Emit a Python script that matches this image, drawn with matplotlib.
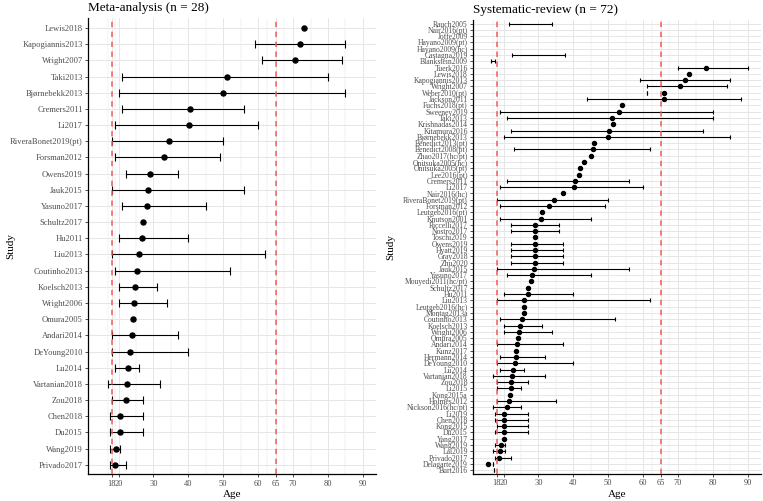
import numpy as np
import matplotlib.pyplot as plt

plt.rcParams['font.family'] = ['Liberation Serif', 'DejaVu Serif']

nan = np.nan

# meta-analysis studies (top to bottom)
meta_study = ["Lewis2018", "Kapogiannis2013", "Wright2007", "Taki2013", "Bjørnebekk2013",
              "Cremers2011", "Li2017", "RiveraBonet2019(pt)", "Forsman2012", "Owens2019",
              "Jauk2015", "Yasuno2017", "Schultz2017", "Hu2011", "Liu2013", "Coutinho2013",
              "Koelsch2013", "Wright2006", "Omura2005", "Andari2014", "DeYoung2010", "Lu2014",
              "Vartanian2018", "Zou2018", "Chen2018", "Du2015", "Wang2019", "Privado2017"]
meta_mean = [73, 72, 70.5, 51, 50, 40.5, 40.3, 34.5, 33, 29, 28.5, 28.2, 27, 26.8, 26,
             25.3, 24.6, 24.4, 24.2, 24, 23.3, 22.6, 22.4, 22.2, 20.5, 20.5, 19.2, 19]
meta_lo = [nan, 59, 61, 21, 20, 21, 19, 18, 19, 22, 18, 21, nan, 20, 18, 19, 20, 20, nan,
           18, 18, 19, 17, 18, 17.5, 17.5, 17.5, 17.5]
meta_hi = [nan, 85, 84, 80, 85, 56, 60, 50, 49, 37, 56, 45, nan, 40, 62, 52, 31, 34, nan,
           37, 40, 26, 32, 27, 27, 27, 20.5, 22]

# systematic-review studies (top to bottom)
sr_study = ["Rauch2005", "Nair2016(pt)", "Joffe2009", "Hayano2009(pt)", "Hayano2009(hc)",
            "Castagna2019", "Blankstein2009", "Tuerk2016", "Lewis2018", "Kapogiannis2013",
            "Wright2007", "Weber2010(pt)", "Jackson2011", "Fuchs2018(pt)", "Sweeney2019",
            "Taki2013", "Krishnadas2014", "Kitamura2016", "Bjørnebekk2013", "Benedict2013(pt)",
            "Benedict2008(pt)", "Zhao2017(hc/pt)", "Onitsuka2005(hc)", "Onitsuka2005(pt)",
            "Lee2016(pt)", "Cremers2011", "Li2017", "Nair2016(hc)", "RiveraBonet2019(pt)",
            "Forsman2012", "Leutgeb2016(pt)", "Knutson2001", "Riccelli2017", "Nostro2017",
            "Toschi2019", "Owens2019", "Hyatt2019", "Gray2018", "Zhu2020", "Jauk2015",
            "Yasuno2017", "Mouyedi2011(hc/pt)", "Schultz2017", "Hu2011", "Liu2013",
            "Leutgeb2016(hc)", "Montag2013a", "Coutinho2013", "Koelsch2013", "Wright2006",
            "Omura2005", "Andari2014", "Kunz2017", "Hermann2014", "DeYoung2010", "Lu2014",
            "Vartanian2018", "Zou2018", "Li2015", "Kong2015a", "Holmes2012",
            "Nickson2016(hc/pt)", "Li2019", "Chen2018", "Kong2015", "Du2015", "Yang2017",
            "Wang2019", "Lai2019", "Privado2017", "Delagarte2019", "Burt2016"]
sr_mean = [nan, nan, nan, nan, nan, nan, nan, 78, 73, 72, 70.5, 66, 66, 54, 53, 51.2, 51.4,
           50.2, 50, 46, 45.5, 45, 43, 42, 41.5, 40.5, 40.3, 37, 34.5, 33, 31, 30.6, 29, 29,
           28.9, 29, 29, 29, 29, 28.6, 28.2, 27.8, 27, 27, 26, 26, 25.9, 25.3, 24.6, 24.4,
           24.2, 24, 23.6, 23.5, 23.3, 22.6, 22.4, 22.2, 22, 21.9, 21.6, 21, 20.2, 20.2, 20.2,
           20.2, 20, 19.2, 19, 18.8, 15.6, nan]
sr_lo = [21.5, nan, nan, nan, nan, 22.5, 16.5, 70, nan, 59, 61, 61, 44, nan, 19, 21, nan,
         22, 20, nan, 23, nan, nan, nan, nan, 21, 19, nan, 18, 19, nan, 19, 22, 22, nan, 22,
         22, 22, 22, 18, 21, nan, nan, 20, 18, nan, nan, 19, 20, 20, nan, 18, nan, 19, 18,
         19, 17, 18, 18, nan, 18, 17, 17.5, 17.5, 18, 17.5, nan, 17.5, 17, 17.5, 17, 17.2]
sr_hi = [34, nan, nan, nan, nan, 37.5, 17.5, 90, nan, 85, 84, 61, 88, nan, 80, 80, nan,
         77, 85, nan, 62, nan, nan, nan, nan, 56, 60, nan, 50, 49, nan, 45, 36, 36, nan, 37,
         37, 37, 37, 56, 45, nan, nan, 40, 62, nan, nan, 52, 31, 34, nan, 37, nan, 32, 40,
         26, 32, 27, 25, nan, 35, 25, 27, 27, 27, 27, nan, 20.5, 20.5, 22, 17, 17.2]

x_breaks = [18, 20, 30, 40, 50, 60, 65, 70, 80, 90]
x_minor = [17, 19, 25, 35, 45, 55, 62.5, 67.5, 75, 85]
tick_grey = '#4D4D4D'
grid_col = '#E6E6E6'
red = '#F25A5A'

fig = plt.figure(figsize=(7.63, 5.01), dpi=100)
ax1 = fig.add_axes([0.1153, 0.0529, 0.3775, 0.9106])
ax2 = fig.add_axes([0.6199, 0.0539, 0.3775, 0.9066])


def draw_panel(ax, study, mean, lo, hi, fs, cap, ms, title):
    n = len(study)
    y = np.arange(n)[::-1]
    mean = np.array(mean, float)
    lo = np.array(lo, float)
    hi = np.array(hi, float)

    # grid
    for v in x_minor:
        ax.axvline(v, color=grid_col, lw=0.35, zorder=0)
    for v in x_breaks:
        ax.axvline(v, color=grid_col, lw=0.7, zorder=0)
    for yy in y:
        ax.axhline(yy, color=grid_col, lw=0.7, zorder=0)

    # intervals
    ok = ~np.isnan(lo)
    ax.hlines(y[ok], lo[ok], hi[ok], color='black', lw=0.8, zorder=2)
    ax.plot(lo[ok], y[ok], '|', color='black', ms=cap, mew=0.8, zorder=2)
    ax.plot(hi[ok], y[ok], '|', color='black', ms=cap, mew=0.8, zorder=2)
    ax.plot(mean, y, 'o', color='black', ms=ms, zorder=3)

    ax.axvline(18, color=red, ls=(0, (3.5, 3)), lw=1.1, zorder=4)
    ax.axvline(65, color=red, ls=(0, (3.5, 3)), lw=1.1, zorder=4)

    ax.set_xlim(11.25, 93.75)
    ax.set_ylim(-0.6, n - 0.4)
    ax.set_xticks(x_breaks)
    ax.set_xticklabels([str(v) for v in x_breaks])
    ax.set_yticks(y)
    ax.set_yticklabels(study)
    ax.tick_params(axis='both', colors='#333333', labelcolor=tick_grey, labelsize=fs,
                   length=2.2, width=0.6, pad=1.5)
    ax.tick_params(axis='x', labelsize=6)
    for t, v in zip(ax.xaxis.get_major_ticks(), x_breaks):
        if v in (18, 65):
            t.tick1line.set_color(red)

    for s in ['top', 'right']:
        ax.spines[s].set_visible(False)
    for s in ['left', 'bottom']:
        ax.spines[s].set_linewidth(0.9)
        ax.spines[s].set_color('black')

    ax.set_xlabel('Age', fontsize=8, labelpad=2)
    ax.set_ylabel('Study', fontsize=8)
    ax.set_title(title, fontsize=9.5, loc='left', pad=5)


draw_panel(ax1, meta_study, meta_mean, meta_lo, meta_hi, 6.1, 5.8, 3.6,
           'Meta-analysis (n = 28)')
draw_panel(ax2, sr_study, sr_mean, sr_lo, sr_hi, 5.5, 2.2, 2.9,
           'Systematic-review (n = 72)')

ax1.yaxis.set_label_coords(-0.253, 0.5)
ax2.yaxis.set_label_coords(-0.27, 0.5)

fig.savefig('out.png', dpi=100)
